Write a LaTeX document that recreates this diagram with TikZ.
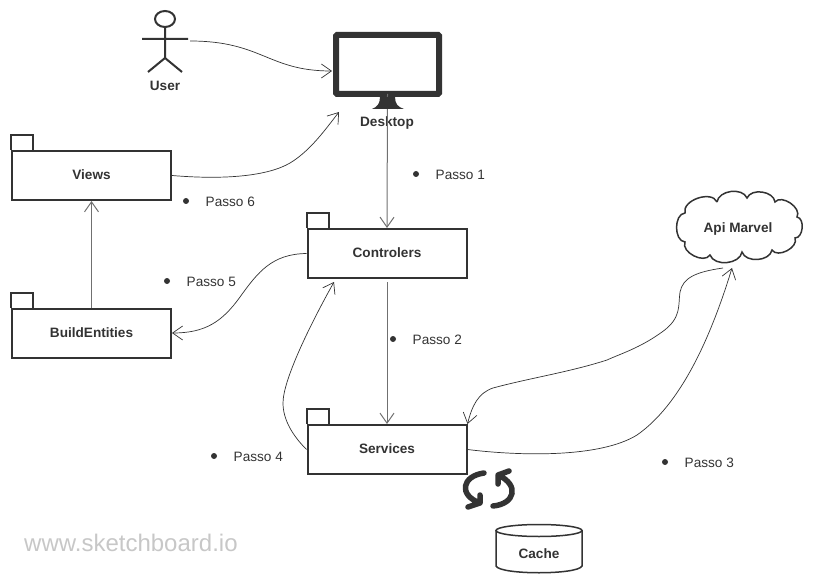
\documentclass[tikz,border=0pt]{standalone}
\usepackage{fontspec}
\setmainfont{Liberation Sans}
\usetikzlibrary{arrows.meta}
\definecolor{ink}{HTML}{333333}
\tikzset{
  >={Straight Barb[length = 10pt, width = 14pt]},
  pkg/.style = {draw = ink, line width = 2pt, minimum width = 159pt, minimum height = 49pt, inner sep = 0pt, text = ink, text height = 9pt, text depth = 1pt, font = \fontsize{13.6}{16}\selectfont\bfseries},
  lbl/.style = {text = ink, inner sep = 0pt, font = \fontsize{13.6}{16}\selectfont\bfseries},
  passo/.style = {text = ink, anchor = west, inner sep = 0pt, font = \fontsize{13.6}{16}\selectfont},
  link/.style = {->, ink, line width = .7pt},
  gline/.style = {->, ink!70, line width = 1pt},
}
\begin{document}
\begin{tikzpicture}[x = 1pt, y = -1pt]
      \useasboundingbox (0,0) rectangle (824,577);
      \node [pkg] (views) at (91.5,175.5) {Views};
      \node [pkg] (controlers) at (387,253.5) {Controlers};
      \node [pkg] (buildentities) at (91.5,333) {BuildEntities};
      \node [pkg] (services) at (387,449.5) {Services};
      \foreach \n in {views, controlers, buildentities, services}
        \draw [ink, line width = 2pt] (\n.north west) --++ (0,-15) --++ (22,0) --++ (0,15);
      \draw [ink, line width = 2pt] (165,19) ellipse (10 and 8);
      \draw [ink, line width = 2pt] (165,27) -- (165,58) (142,39) -- (188,39) (148,72) -- (165,58) -- (182,72);
      \node [lbl] (user) at (165,86) {User};
      \coordinate (userout) at (190,41);
      \node [draw = ink, line width = 6pt, rounded corners = 1pt, minimum width = 103pt, minimum height = 59pt, inner sep = 0pt, outer sep = 0pt] (monitor) at (387.5,64.5) {};
      \coordinate (deskleft) at (332,71);
      \coordinate (deskin) at (339,112);
      \node [lbl] (desktop) at (387,123) {Desktop};
      \draw [gline] (monitor.south) -- (controlers.north);
      \fill [ink] (380,97) -- (395,97) .. controls (395,104) and (398,107) .. (404,109) -- (372,109) .. controls (377,107) and (380,104) .. (380,97) -- cycle;
      \draw [link] (userout) .. controls (262,41) and (268,71) .. (deskleft);
      \draw [link] (views.east) .. controls (225,180) and (268,176) .. (290,163) .. controls (310,151) and (325,130) .. (deskin);
      \draw [gline, shorten <= 3pt] (controlers.south) -- (services.north);
      \draw [gline] (buildentities.north) -- (views.south);
      \draw [link] (controlers.west) .. controls (272,254) and (258,272) .. (240,297) .. controls (222,322) and (205,333) .. (buildentities.east);
      \draw [link] (services.west) .. controls (293,436) and (283,420) .. (283,403) .. controls (283,380) and (310,325) .. (334,282);
      \coordinate (apiin) at (732,268);
      \coordinate (apiout) at (723,268);
      \draw [link] (services.east) .. controls (520,456) and (600,458) .. (637,435) .. controls (680,405) and (710,340) .. (apiin);
      \draw [link] (apiout) .. controls (695,272) and (683,278) .. (680,292) .. controls (678,305) and (682,318) .. (662,332) .. controls (640,348) and (620,354) .. (607,360) .. controls (570,372) and (530,378) .. (493,388) .. controls (478,393) and (472,406) .. (services.north east);
      \draw [ink, line width = 1.5pt] (717,202) to [bend left = 75] (747,198) to [bend left = 75] (775,202) to [bend left = 85] (797,217) to [bend left = 85] (795,238) to [bend left = 85] (772,250) to [bend left = 75] (742,252) to [bend left = 75] (710,255) to [bend left = 85] (685,242) to [bend left = 85] (685,213) to [bend left = 85] (717,202);
      \node [lbl] (api) at (738,229) {Api Marvel};
      \draw [ink, line width = 5.5pt, line cap = round, line join = round] (484,473) .. controls (462,476) and (458,495) .. (480,503) (468,507) -- (480,503) -- (480,495);
      \draw [ink, line width = 5.5pt, line cap = round, line join = round] (493,506) .. controls (515,504) and (520,485) .. (498,475) (509,471) -- (498,475) -- (498,484);
      \draw [ink, line width = 1.5pt] (496,530) -- (496,566) .. controls (500,575) and (578,575) .. (582,566) -- (582,530);
      \draw [ink, line width = 1.5pt] (539,530.5) ellipse (43 and 6);
      \node [lbl] (cache) at (539,554) {Cache};
      \foreach \x/\y/\t in {416/174/1, 393/339/2, 665/462/3, 214/456/4, 167/281/5, 186/201/6} {
        \fill [ink] (\x,\y) circle (3);
        \node [passo] (passo\t) at (\x+19.5,\y+.8) {Passo \t};
      }
      \node [anchor = west, inner sep = 0pt, text = black!22, font = \fontsize{24}{28}\selectfont] (site) at (24,543) {www.sketchboard.io};
      \end{tikzpicture}
\end{document}
